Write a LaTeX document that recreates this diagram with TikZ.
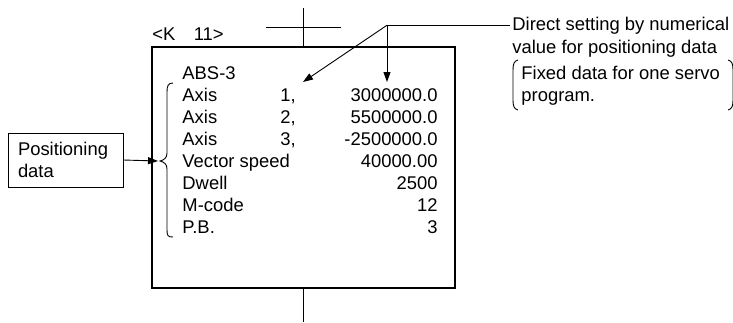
\documentclass[tikz,border=0pt]{standalone}
\usepackage{fontspec}
\setmainfont{Liberation Sans}
\usetikzlibrary{arrows.meta}
\tikzset{
  txt/.style={inner sep=0pt, font=\fontsize{18.4pt}{22pt}\selectfont},
  tip/.style={-{Triangle[length=10pt,width=7pt]}},
}
\begin{document}
\begin{tikzpicture}[x=1pt,y=-1pt,line width=0.9pt]
  \useasboundingbox (0,0) rectangle (733,322);
  % program box and its line
  \node[draw,line width=1.1pt,minimum width=303pt,minimum height=241pt,inner sep=0pt] (P) at (303.5,167.5) {};
  \node[txt,anchor=base west] (K) at (152,40) {<K\quad 11>};
  \coordinate (Ltop) at (303,8);
  \coordinate (Lbot) at (303,322);
  \draw (Ltop) -- (Ltop |- P.north);
  \draw (P.south -| Lbot) -- (Lbot);
  \coordinate (Bl) at (266,27);
  \coordinate (Br) at (341,27);
  \draw (Bl) -- (Br);
  % rows of the servo program
  \node[txt,anchor=base west] (abs) at (182,79) {ABS-3};
  \foreach \lab/\num/\val [count=\i] in {Axis/{1,}/3000000.0, Axis/{2,}/5500000.0, Axis/{3,}/-2500000.0, Vector speed//40000.00, Dwell//2500, M-code//12, P.B.//3} {
    \node[txt,anchor=base west] (lab\i) at (182,79+22*\i) {\lab};
    \node[txt,anchor=base west] (num\i) at (280,79+22*\i) {\num};
    \node[txt,anchor=base east] (val\i) at (438,79+22*\i) {\val};
  }
  % brace
  \draw (173,83) .. controls (168,83) and (167,86) .. (167,92) -- (167,153)
    .. controls (167,158) and (164,160) .. (160,161)
    .. controls (164,162) and (167,164) .. (167,169) -- (167,230)
    .. controls (167,236) and (168,237) .. (173,237);
  % positioning data
  \node[draw,txt,inner xsep=10pt,inner ysep=4pt,text width=95pt,align=left,minimum height=54pt] (pos) at (65.5,160) {Positioning\\data};
  \coordinate (brc) at (158,161);
  \draw[tip] (pos.east) -- (brc);
  % note
  \node[txt,anchor=base west] (dir1) at (512,30) {Direct setting by numerical};
  \node[txt,anchor=base west] (dir2) at (512,53) {value for positioning data};
  \node[txt,anchor=base west] (fix1) at (521,79) {Fixed data for one servo};
  \node[txt,anchor=base west] (fix2) at (521,101) {program.};
  \coordinate (lx) at (387,0);
  \coordinate (lead) at (lx |- dir1.west);
  \coordinate (tipA) at (303,82);
  \coordinate (tipB) at (lead |- tipA);
  \draw ([xshift=-2pt]dir1.west) -- (lead);
  \draw[tip] (lead) -- (tipA);
  \draw[tip] (lead) -- (tipB);
  \draw (518,60) .. controls (514,61) and (513,64) .. (513,70) -- (513,100)
    .. controls (513,106) and (514,109) .. (518,110);
  \draw (728,60) .. controls (732,61) and (733,64) .. (733,70) -- (733,100)
    .. controls (733,106) and (732,109) .. (728,110);
\end{tikzpicture}
\end{document}
